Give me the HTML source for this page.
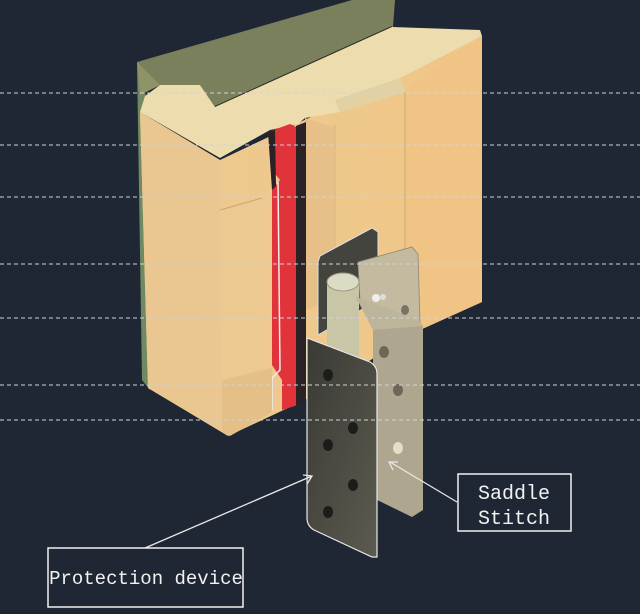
<!DOCTYPE html>
<html><head><meta charset="utf-8"><style>
html,body{margin:0;padding:0;background:#1f2735;}
svg{display:block}
</style></head><body>
<svg width="640" height="614" viewBox="0 0 640 614" xmlns="http://www.w3.org/2000/svg">
<defs>
<linearGradient id="tan" x1="0" y1="0" x2="1" y2="0">
<stop offset="0" stop-color="#ecca92"/><stop offset="1" stop-color="#f0c686"/></linearGradient>
<linearGradient id="dark" x1="0" y1="0" x2="1" y2="1">
<stop offset="0" stop-color="#3a3a36"/><stop offset="1" stop-color="#5c5b4f"/></linearGradient>
</defs>
<rect width="640" height="614" fill="#1f2735"/>
<polygon points="137,62 145,62 150,390 142,380" fill="#6f8a62"/>
<polygon points="140,112 220,160 482,36 482,302 420,330 305,400 228,436 148,388" fill="url(#tan)"/>
<polygon points="140,112 220,160 222,432 148,388" fill="#eac690"/>
<polygon points="405,90 482,36 482,302 420,330 405,330" fill="#f0c485"/>
<line x1="405" y1="92" x2="405" y2="330" stroke="#d2a86e" stroke-width="1"/>
<line x1="335" y1="125" x2="335" y2="300" stroke="#d8b077" stroke-width="1"/>
<polygon points="305,118 335,128 335,300 305,310" fill="#e6c088"/>
<polygon points="220,210 262,198 262,380 222,392" fill="#ecc991"/>
<line x1="220" y1="210" x2="262" y2="198" stroke="#c9a470" stroke-width="1"/>
<polygon points="137,62 352,0 395,0 393,27 215,107 200,85 160,85 140,95" fill="#7a7f5c"/>
<polygon points="137,62 160,85 140,95" fill="#8e9368"/>
<line x1="215" y1="107" x2="392" y2="27" stroke="#2a2a20" stroke-width="2"/>
<polygon points="140,112 145,96 160,85 200,85 215,107 392,27 480,30 482,36 400,78 405,92 340,112 305,118 298,124 270,130 220,158" fill="#ecdcae"/>
<polygon points="400,78 405,92 340,112 335,100" fill="#e2d1a2"/>
<polygon points="268,132 290,124 298,128 298,405 282,410 282,380 272,365 272,190 280,180 272,170" fill="#e0333a"/>
<polygon points="296,126 306,122 306,400 296,406" fill="#2a2226"/>
<polygon points="268,132 275,130 276,186 272,190" fill="#2a2226"/>
<path d="M278 182 L280 370 L272 378 L272 410" fill="none" stroke="#eee" stroke-width="1.5"/>
<polygon points="222,380 272,368 272,412 230,436 222,432" fill="#e5bf88"/>
<polygon points="318,262 320,256 372,228 378,232 378,300 318,335" fill="#44443e" stroke="#ddd" stroke-width="1"/>
<polygon points="358,262 412,247 418,254 420,322 360,300" fill="#c3ba9f" stroke="#8f8870" stroke-width="0.8"/>
<ellipse cx="405" cy="310" rx="4" ry="5" fill="#7a7262"/>
<rect x="327" y="282" width="32" height="80" fill="#c9c6a8"/>
<ellipse cx="343" cy="282" rx="16" ry="9" fill="#dcdcc6" stroke="#9a9a80"/>
<circle cx="376" cy="298" r="4" fill="#eee"/><circle cx="383" cy="297" r="3" fill="#ddd"/>
<polygon points="356,297 418,320 423,326 423,510 412,517 373,498 373,330" fill="#aea68e"/>
<polygon points="356,297 418,320 423,326 373,330" fill="#bdb59a"/>
<ellipse cx="384" cy="352" rx="5" ry="6" fill="#6e6658"/>
<ellipse cx="398" cy="390" rx="5" ry="6" fill="#6e6658"/>
<ellipse cx="398" cy="448" rx="5" ry="6" fill="#e4ddc8"/>
<path d="M307 338 L370 362 Q377 366 377 374 L377 557 L372 557 L314 530 Q307 526 307 518 Z" fill="url(#dark)" stroke="#e8e8e8" stroke-width="1.2"/>
<ellipse cx="328" cy="375" rx="5" ry="6" fill="#1c1c1a"/>
<ellipse cx="353" cy="428" rx="5" ry="6" fill="#1c1c1a"/>
<ellipse cx="328" cy="445" rx="5" ry="6" fill="#1c1c1a"/>
<ellipse cx="353" cy="485" rx="5" ry="6" fill="#1c1c1a"/>
<ellipse cx="328" cy="512" rx="5" ry="6" fill="#1c1c1a"/>
<g stroke="#cfd3da" stroke-width="1" stroke-dasharray="4,3">
<line x1="0" y1="93" x2="640" y2="93"/><line x1="0" y1="145" x2="640" y2="145"/>
<line x1="0" y1="197" x2="640" y2="197"/><line x1="0" y1="264" x2="640" y2="264"/>
<line x1="0" y1="318" x2="640" y2="318"/><line x1="0" y1="385" x2="640" y2="385"/>
<line x1="0" y1="420" x2="640" y2="420"/>
</g>
<g stroke="#e8e8e8" stroke-width="1.3" fill="none">
<line x1="457" y1="502" x2="390" y2="462"/><polyline points="398,462 389,462 393,470"/>
<line x1="145" y1="548" x2="312" y2="476"/><polyline points="303,475 312,476 307,484"/>
</g>
<rect x="458" y="474" width="113" height="57" fill="#1f2735" stroke="#f0f0f0" stroke-width="1.5"/>
<text x="514" y="499" fill="#f2f2f2" font-family="Liberation Mono, monospace" font-size="20" text-anchor="middle">Saddle</text>
<text x="514" y="524" fill="#f2f2f2" font-family="Liberation Mono, monospace" font-size="20" text-anchor="middle">Stitch</text>
<rect x="48" y="548" width="195" height="59" fill="#1f2735" stroke="#f0f0f0" stroke-width="1.5"/>
<text x="146" y="584" fill="#f2f2f2" font-family="Liberation Mono, monospace" font-size="19" text-anchor="middle">Protection device</text>
</svg>
</body></html>
